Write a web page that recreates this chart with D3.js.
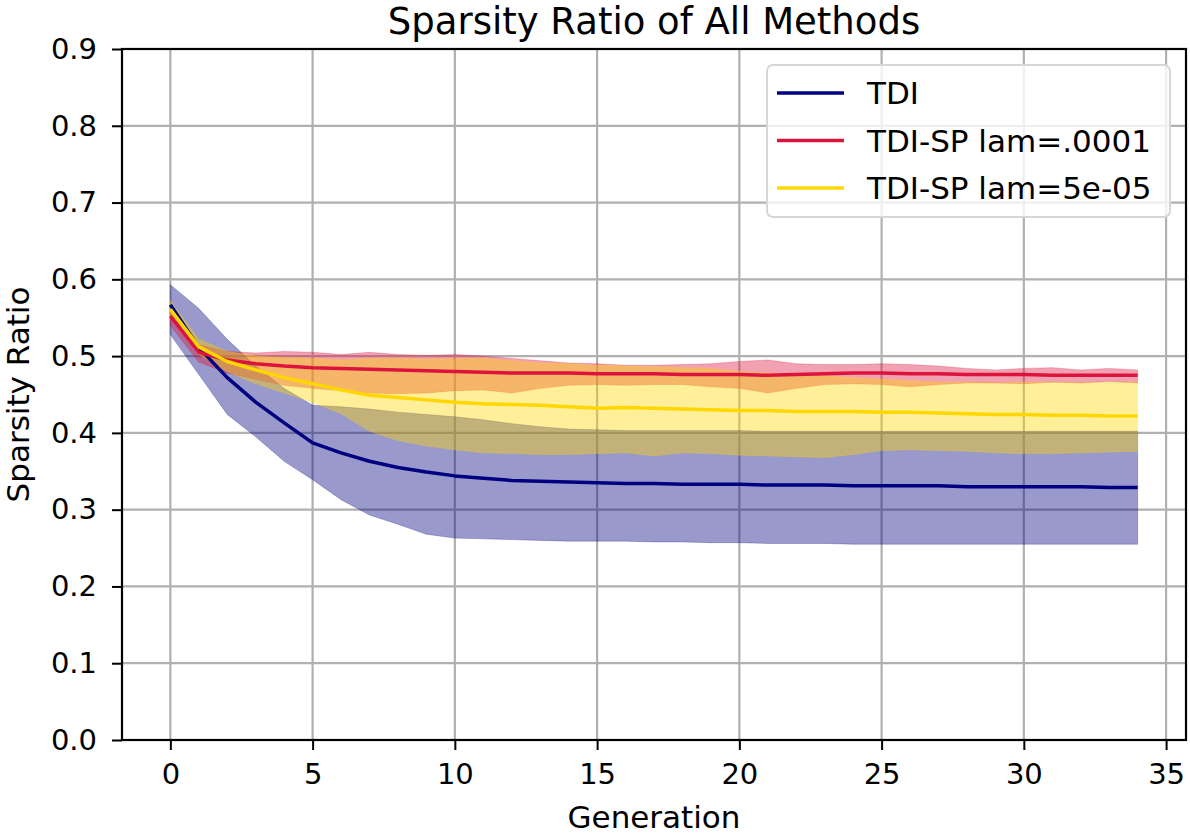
<!DOCTYPE html>
<html lang="en">
<head>
    <meta charset="UTF-8">
    <title>Sparsity Ratio of All Methods</title>
    <style>
        body { margin: 0; background: #fff; }
        text { font-family: "DejaVu Sans", sans-serif; fill: #000; }
        .grid line { stroke: #b0b0b0; stroke-width: 2.2; }
    </style>
</head>
<body>
<svg id="chart"></svg>
<script src="https://cdnjs.cloudflare.com/ajax/libs/d3/7.8.5/d3.min.js"></script>
<script>
    // generations 0..34
    var generations = d3.range(0, 35);

    var tdiMean = [0.567, 0.511, 0.472, 0.440, 0.413, 0.387, 0.374, 0.363, 0.355, 0.349,
        0.344, 0.341, 0.338, 0.337, 0.336, 0.335, 0.334, 0.334, 0.333, 0.333,
        0.333, 0.332, 0.332, 0.332, 0.331, 0.331, 0.331, 0.331, 0.330, 0.330,
        0.330, 0.330, 0.330, 0.329, 0.329];
    var tdiUpper = [0.593, 0.562, 0.522, 0.487, 0.458, 0.436, 0.434, 0.431, 0.427, 0.424,
        0.421, 0.417, 0.412, 0.408, 0.405, 0.404, 0.403, 0.403, 0.403, 0.403,
        0.403, 0.402, 0.402, 0.402, 0.402, 0.402, 0.402, 0.402, 0.402, 0.402,
        0.402, 0.402, 0.402, 0.402, 0.402];
    var tdiLower = [0.528, 0.476, 0.424, 0.395, 0.363, 0.339, 0.313, 0.293, 0.281, 0.268,
        0.263, 0.262, 0.261, 0.260, 0.259, 0.259, 0.259, 0.258, 0.258, 0.257,
        0.257, 0.256, 0.256, 0.256, 0.255, 0.255, 0.255, 0.255, 0.255, 0.255,
        0.255, 0.255, 0.255, 0.255, 0.255];

    var sp1Mean = [0.552, 0.505, 0.495, 0.490, 0.487, 0.485, 0.484, 0.483, 0.482, 0.481,
        0.480, 0.479, 0.478, 0.478, 0.478, 0.477, 0.477, 0.477, 0.476, 0.476,
        0.476, 0.475, 0.476, 0.477, 0.478, 0.478, 0.477, 0.477, 0.476, 0.476,
        0.476, 0.475, 0.475, 0.475, 0.475];
    var sp1Upper = [0.562, 0.515, 0.506, 0.504, 0.506, 0.505, 0.502, 0.505, 0.502, 0.501,
        0.502, 0.500, 0.497, 0.494, 0.491, 0.490, 0.488, 0.488, 0.489, 0.490,
        0.493, 0.495, 0.490, 0.489, 0.489, 0.490, 0.489, 0.487, 0.484, 0.482,
        0.484, 0.485, 0.482, 0.484, 0.482];
    var sp1Lower = [0.540, 0.492, 0.478, 0.470, 0.462, 0.458, 0.455, 0.452, 0.451, 0.452,
        0.455, 0.456, 0.452, 0.458, 0.462, 0.463, 0.462, 0.463, 0.463, 0.460,
        0.458, 0.452, 0.458, 0.463, 0.464, 0.463, 0.460, 0.463, 0.465, 0.465,
        0.464, 0.466, 0.465, 0.467, 0.465];

    var sp2Mean = [0.561, 0.512, 0.493, 0.482, 0.472, 0.464, 0.456, 0.449, 0.446, 0.443,
        0.440, 0.438, 0.437, 0.436, 0.434, 0.432, 0.433, 0.432, 0.431, 0.430,
        0.429, 0.429, 0.428, 0.428, 0.428, 0.427, 0.427, 0.426, 0.425, 0.424,
        0.424, 0.423, 0.423, 0.422, 0.422];
    var sp2Upper = [0.572, 0.522, 0.506, 0.500, 0.498, 0.497, 0.495, 0.497, 0.497, 0.496,
        0.497, 0.497, 0.494, 0.491, 0.490, 0.488, 0.487, 0.486, 0.485, 0.484,
        0.480, 0.478, 0.476, 0.474, 0.472, 0.470, 0.468, 0.466, 0.466, 0.465,
        0.466, 0.466, 0.465, 0.466, 0.466];
    var sp2Lower = [0.550, 0.502, 0.480, 0.464, 0.452, 0.440, 0.425, 0.402, 0.390, 0.383,
        0.378, 0.374, 0.373, 0.372, 0.372, 0.373, 0.374, 0.370, 0.374, 0.373,
        0.371, 0.370, 0.369, 0.368, 0.372, 0.377, 0.378, 0.377, 0.376, 0.374,
        0.373, 0.373, 0.374, 0.375, 0.376];

    var seriesNames = ["TDI", "TDI-SP lam=.0001", "TDI-SP lam=5e-05"];
    var seriesColors = ["#000080", "#dc143c", "#ffd700"];
    var xTicks = [0, 5, 10, 15, 20, 25, 30, 35];
    var yTicks = [0.0, 0.1, 0.2, 0.3, 0.4, 0.5, 0.6, 0.7, 0.8, 0.9];

    var series = [
        {name: seriesNames[0], color: seriesColors[0], mean: tdiMean, lo: tdiLower, hi: tdiUpper},
        {name: seriesNames[1], color: seriesColors[1], mean: sp1Mean, lo: sp1Lower, hi: sp1Upper},
        {name: seriesNames[2], color: seriesColors[2], mean: sp2Mean, lo: sp2Lower, hi: sp2Upper}
    ];

    var W = 1190, H = 837;
    var m = {left: 122, right: 4, top: 49, bottom: 97};
    var pw = W - m.left - m.right, ph = H - m.top - m.bottom;

    var svg = d3.select("#chart").attr("width", W).attr("height", H);
    svg.append("rect").attr("width", W).attr("height", H).attr("fill", "#fff");

    var x = d3.scaleLinear().domain([-1.7, 35.7]).range([0, pw]);
    var y = d3.scaleLinear().domain([0, 0.9]).range([ph, 0]);

    var g = svg.append("g").attr("transform", "translate(" + m.left + "," + m.top + ")");

    // grid
    var grid = g.append("g").attr("class", "grid");
    grid.selectAll(".gx").data(xTicks).enter().append("line")
        .attr("x1", function(d) { return x(d); }).attr("x2", function(d) { return x(d); })
        .attr("y1", 0).attr("y2", ph);
    grid.selectAll(".gy").data(yTicks).enter().append("line")
        .attr("y1", function(d) { return y(d); }).attr("y2", function(d) { return y(d); })
        .attr("x1", 0).attr("x2", pw);

    var area = d3.area()
        .x(function(d, i) { return x(generations[i]); })
        .y0(function(d) { return y(d[0]); })
        .y1(function(d) { return y(d[1]); });
    var line = d3.line()
        .x(function(d, i) { return x(generations[i]); })
        .y(function(d) { return y(d); });

    // bands first, mean lines on top
    series.forEach(function(s) {
        var band = s.lo.map(function(v, i) { return [v, s.hi[i]]; });
        g.append("path").datum(band)
            .attr("d", area)
            .attr("fill", s.color)
            .attr("fill-opacity", 0.4)
            .attr("stroke", s.color)
            .attr("stroke-opacity", 0.25)
            .attr("stroke-width", 1);
    });
    series.forEach(function(s) {
        g.append("path").datum(s.mean)
            .attr("d", line)
            .attr("fill", "none")
            .attr("stroke", s.color)
            .attr("stroke-width", 3.5)
            .attr("stroke-linejoin", "round");
    });

    // axes
    var xAxis = g.append("g").attr("transform", "translate(0," + ph + ")")
        .call(d3.axisBottom(x).tickValues(xTicks).tickSize(10).tickPadding(13).tickFormat(d3.format("d")));
    var yAxis = g.append("g")
        .call(d3.axisLeft(y).tickValues(yTicks).tickSize(10).tickPadding(15).tickFormat(d3.format(".1f")));
    [xAxis, yAxis].forEach(function(a) {
        a.select(".domain").remove();
        a.selectAll("line").attr("stroke", "#000").attr("stroke-width", 2);
        a.selectAll("text").attr("font-size", 29).attr("font-family", "DejaVu Sans").attr("fill", "#000");
    });

    // frame
    g.append("rect").attr("width", pw).attr("height", ph)
        .attr("fill", "none").attr("stroke", "#000").attr("stroke-width", 2.2);

    // titles
    svg.append("text").attr("x", m.left + pw / 2).attr("y", 34)
        .attr("text-anchor", "middle").attr("font-size", 37).text("Sparsity Ratio of All Methods");
    svg.append("text").attr("x", m.left + pw / 2).attr("y", 828)
        .attr("text-anchor", "middle").attr("font-size", 31).text("Generation");
    svg.append("text").attr("transform", "translate(29," + (m.top + ph / 2) + ") rotate(-90)")
        .attr("text-anchor", "middle").attr("font-size", 31).text("Sparsity Ratio");

    // legend
    var lg = svg.append("g").attr("transform", "translate(767,65)");
    lg.append("rect").attr("width", 403).attr("height", 152).attr("rx", 6)
        .attr("fill", "#fff").attr("fill-opacity", 0.8)
        .attr("stroke", "#d6d6d6").attr("stroke-width", 2);
    var items = lg.selectAll(".item").data(series).enter().append("g")
        .attr("transform", function(d, i) { return "translate(0," + (28 + i * 47.5) + ")"; });
    items.append("line").attr("x1", 10).attr("x2", 77)
        .attr("stroke", function(d) { return d.color; }).attr("stroke-width", 3.5);
    items.append("text").attr("x", 100).attr("dy", "0.36em").attr("font-size", 31)
        .text(function(d) { return d.name; });
</script>
</body>
</html>
